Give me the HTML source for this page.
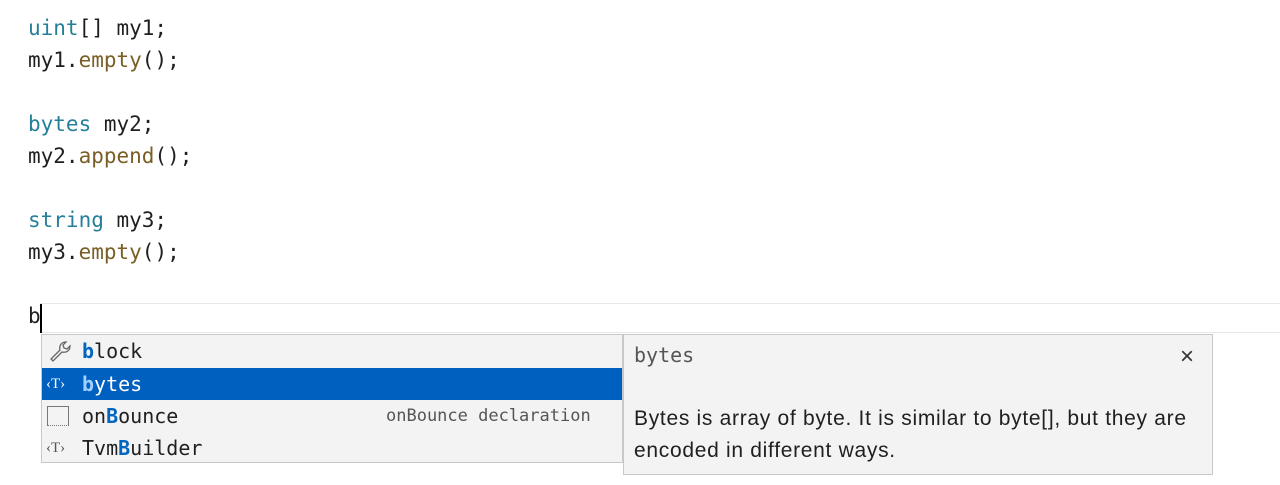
<!DOCTYPE html>
<html><head><style>
body{margin:0;width:1280px;height:485px;background:#fff;position:relative;overflow:hidden;font-family:"DejaVu Sans Mono","Liberation Mono",monospace;}
.l{position:absolute;left:28px;font-size:21px;line-height:32px;color:#1f1f1f;white-space:pre;}
.k{color:#267f99}.m{color:#795e26}
.hl{position:absolute;left:40px;top:303px;width:1240px;height:28px;border-top:1px solid #e8e8e8;border-bottom:1px solid #e8e8e8;}
.cur{position:absolute;left:40px;top:304px;width:2px;height:29px;background:#000;}
.sug{position:absolute;left:41px;top:334px;width:582px;height:129px;background:#f3f3f3;border:1px solid #c8c8c8;box-sizing:border-box;}
.row{position:absolute;left:0;width:580px;height:32px;font-size:20px;line-height:32px;color:#1f1f1f;white-space:pre;}
.row .ic{position:absolute;left:4px;top:0;font-family:"Liberation Serif",serif;font-size:15px;color:#555;}
.row .t{position:absolute;left:40px;}
.b{color:#0066bf;font-weight:bold}
.sel{background:#0060c0;color:#fff}
.sel .ic{color:#fff}.sel .b{color:#9fd0ff}
.det{position:absolute;left:623px;top:334px;width:590px;height:141px;background:#f3f3f3;border:1px solid #c8c8c8;box-sizing:border-box;}
</style></head><body>
<div class="l" style="top:12px"><span class="k">uint</span>[] my1;</div>
<div class="l" style="top:44px">my1.<span class="m">empty</span>();</div>
<div class="l" style="top:108px"><span class="k">bytes</span> my2;</div>
<div class="l" style="top:140px">my2.<span class="m">append</span>();</div>
<div class="l" style="top:204px"><span class="k">string</span> my3;</div>
<div class="l" style="top:236px">my3.<span class="m">empty</span>();</div>
<div class="hl"></div>
<div class="l" style="top:300px">b</div>
<div class="cur"></div>
<div class="sug">
 <div class="row" style="top:0"><svg style="position:absolute;left:7px;top:5px" width="24" height="22" viewBox="0 0 24 22"><path d="M2 19 L11 10 C10 6 12 2 17 2 L14 5 L15 8 L18 9 L21 6 C21 11 17 13 13 12 L4 21 Z" fill="none" stroke="#666" stroke-width="1.3"/></svg><span class="t"><span class="b">b</span>lock</span></div>
 <div class="row sel" style="top:33px"><span class="ic">‹T›</span><span class="t"><span class="b">b</span>ytes</span></div>
 <div class="row" style="top:65px"><span class="ic" style="top:6px;left:5px;width:22px;height:20px;border:1px solid #777;border-bottom:1px dotted #777;box-sizing:border-box"></span><span class="t">on<span class="b">B</span>ounce</span><span style="position:absolute;left:344px;font-size:17px;color:#555">onBounce declaration</span></div>
 <div class="row" style="top:97px"><span class="ic">‹T›</span><span class="t">Tvm<span class="b">B</span>uilder</span></div>
</div>
<div class="det">
 <div style="position:absolute;left:10px;top:8px;font-size:20px;color:#555">bytes</div>
 <div style="position:absolute;left:556px;top:8px;font-family:'Liberation Sans',sans-serif;font-size:24px;color:#333">×</div>
 <div style="position:absolute;left:10px;top:68px;width:570px;font-family:'Liberation Sans',sans-serif;font-size:21px;letter-spacing:0.7px;line-height:32px;color:#1f1f1f">Bytes is array of byte. It is similar to byte[], but they are encoded in different ways.</div>
</div>
</body></html>
